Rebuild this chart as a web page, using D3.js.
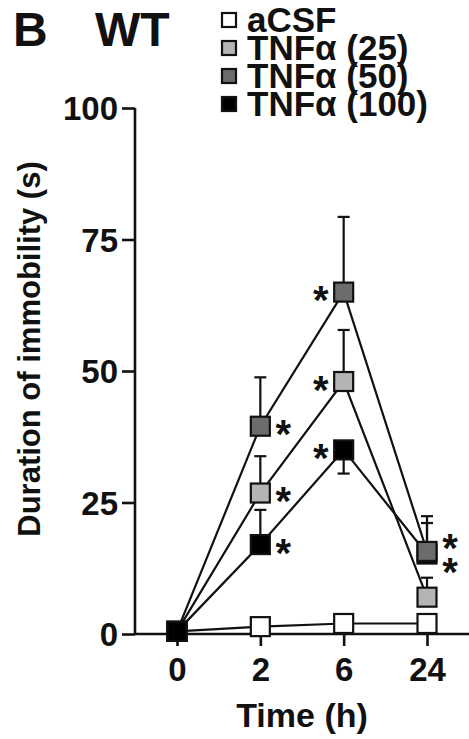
<!DOCTYPE html>
<html>
<head>
<meta charset="utf-8">
<script src="https://cdn.jsdelivr.net/npm/d3@7"></script>
<style>
  html, body { margin: 0; padding: 0; background: #fff; }
  text { font-family: "Liberation Sans", Arial, sans-serif; font-weight: bold; fill: #111; }
</style>
</head>
<body>
<div class="canvas"></div>
<script>
// data
const times = ["0", "2", "6", "24"];
const seriesNames = ["aCSF", "TNFα (25)", "TNFα (50)", "TNFα (100)"];
const aCSF = [0.5, 1.4, 2.0, 2.0];
const tnf25 = [0.5, 26.8, 48.0, 7.0];
const tnf50 = [0.5, 39.5, 65.0, 15.7];
const tnf100 = [0.5, 17.0, 35.0, 15.2];
// SEM (negative = bar drawn below the point)
const semACSF = [0, 0, 0, 0];
const sem25 = [0, 7.0, 9.8, 3.7];
const sem50 = [0, 9.3, 14.3, 6.7];
const sem100 = [0, 6.6, -4.5, 5.9];
const yTicks = [0, 25, 50, 75, 100];
// significance stars: time, value, side
const stars = [
  { t: "2", v: 39.5, side: 1 }, { t: "2", v: 26.8, side: 1 }, { t: "2", v: 17.0, side: 1 },
  { t: "6", v: 65.0, side: -1 }, { t: "6", v: 48.0, side: -1 }, { t: "6", v: 35.0, side: -1 },
  { t: "24", v: 17.8, side: 1 }, { t: "24", v: 13.4, side: 1 }
];

const fills = ["#ffffff", "#b4b4b4", "#6c6c6c", "#000000"];
const values = [aCSF, tnf25, tnf50, tnf100];
const sems = [semACSF, sem25, sem50, sem100];

// dimensions
const w = 469;
const h = 739;
const margin = { top: 108, right: 0, bottom: 105, left: 135 };

const svg = d3.select(".canvas").append("svg").attr("width", w).attr("height", h);

const x = d3.scalePoint().domain(times).range([177, 427]);
const y = d3.scaleLinear().domain([0, 100]).range([h - margin.bottom, margin.top]);

// axes
const yAxis = svg.append("g")
  .attr("transform", `translate(${margin.left},0)`)
  .call(d3.axisLeft(y).tickValues(yTicks).tickSize(13).tickPadding(4));
const xAxis = svg.append("g")
  .attr("transform", `translate(0,${y(0)})`)
  .call(d3.axisBottom(x).tickSize(12).tickPadding(12));
xAxis.select(".domain").attr("d", `M${margin.left},0H${w}`);
[xAxis, yAxis].forEach(a => {
  a.selectAll("path, line").attr("stroke", "#111").attr("stroke-width", 2.6);
  a.selectAll("text").style("font-size", "33px").attr("fill", "#111");
});
yAxis.selectAll(".tick text").attr("dy", "0.36em");
yAxis.select(".domain").attr("d", `M0,${y(0)}V${y(100)}`);

// axis titles
svg.append("text")
  .attr("x", 302).attr("y", 727)
  .attr("text-anchor", "middle")
  .style("font-size", "34px")
  .text("Time (h)");
svg.append("text")
  .attr("transform", `translate(40,349) rotate(-90)`)
  .attr("text-anchor", "middle")
  .style("font-size", "31px")
  .text("Duration of immobility (s)");

// panel labels
svg.append("text").attr("x", 13).attr("y", 46).style("font-size", "48px").text("B");
svg.append("text").attr("x", 95).attr("y", 46).style("font-size", "48px").text("WT");

// legend
const legend = svg.append("g").attr("transform", "translate(222,0)");
seriesNames.forEach((name, i) => {
  const row = legend.append("g").attr("transform", `translate(0,${20 + i * 28})`);
  row.append("rect")
    .attr("x", 0).attr("y", -7).attr("width", 14).attr("height", 14)
    .attr("fill", fills[i]).attr("stroke", "#111").attr("stroke-width", 2.2);
  row.append("text")
    .attr("x", 25).attr("y", 12)
    .style("font-size", "35px")
    .text(name);
});

// lines
const line = d3.line().x((d, i) => x(times[i])).y(d => y(d));
values.forEach(vals => {
  svg.append("path")
    .datum(vals)
    .attr("fill", "none")
    .attr("stroke", "#111")
    .attr("stroke-width", 2.2)
    .attr("d", line);
});

// error bars
values.forEach((vals, s) => {
  vals.forEach((v, i) => {
    const e = sems[s][i];
    if (!e) return;
    const cx = x(times[i]);
    const y1 = y(v + e);
    svg.append("line").attr("x1", cx).attr("x2", cx).attr("y1", y(v)).attr("y2", y1)
      .attr("stroke", "#111").attr("stroke-width", 2.2);
    svg.append("line").attr("x1", cx - 6).attr("x2", cx + 6).attr("y1", y1).attr("y2", y1)
      .attr("stroke", "#111").attr("stroke-width", 2.2);
  });
});

// markers: lower values first so higher ones sit on top, ties by series order
const markers = [];
values.forEach((vals, s) => vals.forEach((v, i) => markers.push({ s, i, v })));
markers.sort((a, b) => a.v - b.v || a.s - b.s);
const ms = 19;
svg.selectAll("rect.marker")
  .data(markers)
  .enter()
  .append("rect")
  .attr("class", "marker")
  .attr("x", d => x(times[d.i]) - ms / 2)
  .attr("y", d => y(d.v) - ms / 2)
  .attr("width", ms)
  .attr("height", ms)
  .attr("fill", d => fills[d.s])
  .attr("stroke", "#111")
  .attr("stroke-width", 2.2);

// stars
svg.selectAll("text.star")
  .data(stars)
  .enter()
  .append("text")
  .attr("class", "star")
  .attr("x", d => x(d.t) + d.side * 23)
  .attr("y", d => y(d.v) + 22)
  .attr("text-anchor", "middle")
  .style("font-size", "40px")
  .attr("fill", "#222")
  .text("*");
</script>
</body>
</html>
